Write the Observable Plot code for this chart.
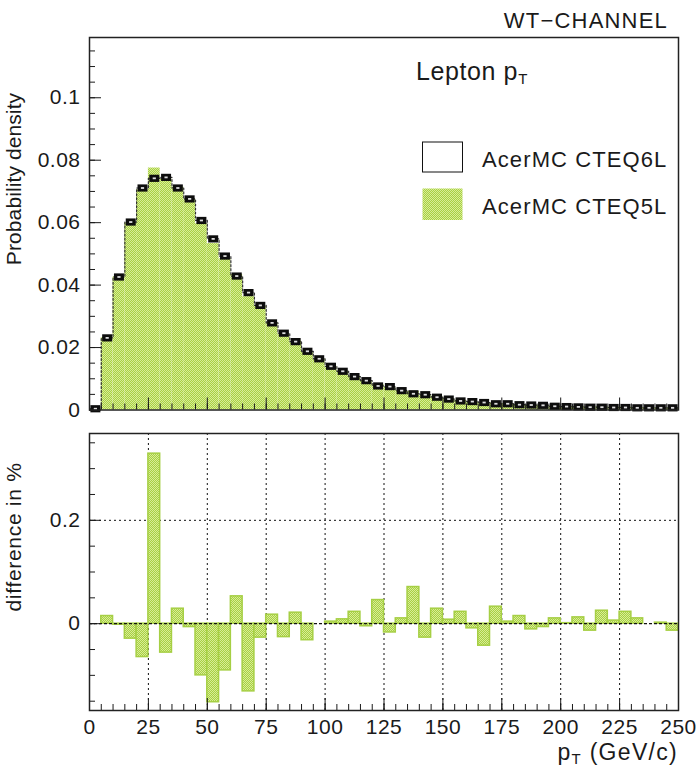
<!DOCTYPE html>
<html>
<head>
<meta charset="utf-8">
<script src="https://cdn.jsdelivr.net/npm/d3@7"></script>
<script src="https://cdn.jsdelivr.net/npm/@observablehq/plot@0.6"></script>
<style>
  html, body { margin: 0; padding: 0; background: #fff; }
  #wrap { position: relative; width: 700px; height: 772px; overflow: hidden; font-family: "Liberation Sans", Arial, sans-serif; }
  #wrap > svg { position: absolute; left: 0; }
  #overlay { position: absolute; left: 0; top: 0; pointer-events: none; }
</style>
</head>
<body>
<svg width="0" height="0" style="position:absolute">
  <defs>
    <pattern id="chk" width="2" height="2" patternUnits="userSpaceOnUse">
      <rect width="2" height="2" fill="#a9d042"/>
      <rect width="1" height="1" fill="#d7ed98"/>
      <rect x="1" y="1" width="1" height="1" fill="#d7ed98"/>
    </pattern>
  </defs>
</svg>
<div id="wrap"></div>
<script>
// ---- data ----
const binLo = [0,5,10,15,20,25,30,35,40,45,50,55,60,65,70,75,80,85,90,95,
  100,105,110,115,120,125,130,135,140,145,150,155,160,165,170,175,180,185,190,195,
  200,205,210,215,220,225,230,235,240,245];
const binWidth = 5;

// AcerMC CTEQ6L (black markers)
const cteq6l = [0.0004,0.0231,0.0426,0.0602,0.0711,0.0742,0.0745,0.0711,0.0676,0.0607,
  0.0548,0.0493,0.0429,0.0376,0.0335,0.0279,0.0246,0.0219,0.0188,0.0164,
  0.0140,0.0124,0.0107,0.0094,0.0077,0.0075,0.0062,0.0052,0.0049,0.0041,
  0.0035,0.0029,0.0027,0.0024,0.0020,0.0020,0.0017,0.0016,0.0015,0.0012,
  0.0011,0.0010,0.0009,0.0009,0.0008,0.0008,0.0007,0.0007,0.0007,0.0007];

// AcerMC CTEQ5L (green filled histogram)
const cteq5l = [0.0004,0.0232,0.0426,0.0599,0.0705,0.0775,0.0739,0.0714,0.0675,0.0597,
  0.0533,0.0484,0.0434,0.0363,0.0332,0.0281,0.0243,0.0221,0.0185,0.0164,
  0.0140,0.0125,0.0109,0.0094,0.0082,0.0073,0.0063,0.0059,0.0046,0.0044,
  0.0036,0.0031,0.0026,0.0020,0.0023,0.0020,0.0018,0.0015,0.0015,0.0013,
  0.0011,0.0011,0.0009,0.0011,0.0009,0.0010,0.0008,0.0007,0.0007,0.0007];

// difference in %
const diffPct = [0,0.0148,-0.002,-0.029,-0.0646,0.329,-0.056,0.029,-0.0066,-0.100,
  -0.152,-0.0904,0.0529,-0.131,-0.027,0.0174,-0.026,0.0213,-0.032,0.0,
  0.004,0.0084,0.023,-0.005,0.0457,-0.017,0.0103,0.0709,-0.027,0.029,
  0.0077,0.023,-0.009,-0.0426,0.0329,0.004,0.0148,-0.011,-0.0065,0.0103,
  0.001,0.0122,-0.0135,0.0251,0.006,0.023,0.0103,0.0,0.002,-0.0135];

const xTicks = [0,25,50,75,100,125,150,175,200,225,250];
const xGrid = [25,50,75,100,125,150,175,200,225];
const xMinor = d3.range(0, 250.001, 5);
const yTopTicks = [0,0.02,0.04,0.06,0.08,0.1];
const yTopMinor = d3.range(0, 0.1191, 0.005);
const yBotTicks = [0,0.2];
const yBotMinor = [-0.15,-0.1,-0.05,0,0.05,0.1,0.15,0.2,0.25,0.3,0.35];

// ---- tables ----
const bins = binLo.map((lo, i) => ({lo, hi: lo + binWidth, mid: lo + binWidth/2,
  v6: cteq6l[i], v5: cteq5l[i], d: diffPct[i]}));
const step6 = bins.map(b => ({x: b.lo, y: b.v6})).concat([{x: 250, y: cteq6l[cteq6l.length-1]}]);

const W = 700, ML = 89, MR = 22;
const PW = W - ML - MR;
const FONT = "Liberation Sans, Arial, sans-serif";
const fmt = d => String(+d.toFixed(3));
const ink = "#1a1a1a";

// rectangular marker symbols (ROOT-like)
const boxOuter = {draw(ctx) { ctx.moveTo(-5, -3.6); ctx.lineTo(5, -3.6); ctx.lineTo(5, 3.6); ctx.lineTo(-5, 3.6); ctx.closePath(); }};
const boxInner = {draw(ctx) { ctx.moveTo(-1.6, -0.9); ctx.lineTo(1.6, -0.9); ctx.lineTo(1.6, 0.9); ctx.lineTo(-1.6, 0.9); ctx.closePath(); }};

// ---- top panel ----
const topH = 420, topMT = 37, topMB = 10.5;
const topPH = topH - topMT - topMB;
const topPlot = Plot.plot({
  width: W, height: topH,
  marginLeft: ML, marginRight: MR, marginTop: topMT, marginBottom: topMB,
  style: {fontFamily: FONT, fontSize: "21px", color: ink, background: "transparent", letterSpacing: "0.5px"},
  x: {domain: [0, 250], axis: null, label: null},
  y: {domain: [0, 0.1193], axis: null, label: null},
  marks: [
    Plot.rect(bins, {x1: "lo", x2: "hi", y1: () => 0, y2: "v5", fill: "url(#chk)"}),
    Plot.line(step6, {x: "x", y: "y", curve: "step-after", stroke: "#333", strokeWidth: 1.2, strokeDasharray: "2,2"}),
    Plot.tickX(xMinor, {x: d => d, insetTop: topPH - 6, stroke: ink, strokeWidth: 1}),
    Plot.tickX(xTicks, {x: d => d, insetTop: topPH - 12, stroke: ink, strokeWidth: 1}),
    Plot.tickY(yTopMinor, {y: d => d, insetRight: PW - 6, stroke: ink, strokeWidth: 1}),
    Plot.tickY(yTopTicks, {y: d => d, insetRight: PW - 12, stroke: ink, strokeWidth: 1}),
    Plot.axisY({ticks: yTopTicks, tickSize: 0, tickPadding: 9, tickFormat: fmt, fontSize: 21, label: null}),
    Plot.dot(bins, {x: "mid", y: "v6", symbol: boxOuter, fill: "#0d0d0d", stroke: "none"}),
    Plot.dot(bins, {x: "mid", y: "v6", symbol: boxInner, fill: "#ddd", stroke: "none"}),
    Plot.frame({stroke: "#222", strokeWidth: 1.5})
  ]
});
topPlot.style.top = "0px";

// ---- bottom panel ----
const botTop = 420, botH = 352, botMT = 13, botMB = 62;
const botPH = botH - botMT - botMB;
const botPlot = Plot.plot({
  width: W, height: botH,
  marginLeft: ML, marginRight: MR, marginTop: botMT, marginBottom: botMB,
  style: {fontFamily: FONT, fontSize: "21px", color: ink, background: "transparent", letterSpacing: "0.5px"},
  x: {domain: [0, 250], axis: null, label: null},
  y: {domain: [-0.168, 0.368], axis: null, label: null},
  marks: [
    Plot.ruleX(xGrid, {x: d => d, stroke: "#111", strokeWidth: 1, strokeDasharray: "2,3"}),
    Plot.ruleY([0.2], {y: d => d, stroke: "#111", strokeWidth: 1, strokeDasharray: "2,3"}),
    Plot.rect(bins.filter(b => b.d !== 0), {x1: "lo", x2: "hi", y1: () => 0, y2: "d",
      fill: "url(#chk)", stroke: "#a6cf44", strokeWidth: 1.5}),
    Plot.ruleY([0], {y: d => d, stroke: "#111", strokeWidth: 1.2, strokeDasharray: "3,2"}),
    Plot.tickX(xMinor, {x: d => d, insetTop: botPH - 6, stroke: ink, strokeWidth: 1}),
    Plot.tickX(xTicks, {x: d => d, insetTop: botPH - 12, stroke: ink, strokeWidth: 1}),
    Plot.tickY(yBotMinor, {y: d => d, insetRight: PW - 6, stroke: ink, strokeWidth: 1}),
    Plot.tickY(yBotTicks, {y: d => d, insetRight: PW - 12, stroke: ink, strokeWidth: 1}),
    Plot.axisY({ticks: yBotTicks, tickSize: 0, tickPadding: 9, tickFormat: fmt, fontSize: 21, label: null}),
    Plot.axisX({ticks: xTicks, tickSize: 0, tickPadding: 9, tickFormat: d => String(d), fontSize: 21, label: null}),
    Plot.frame({stroke: "#222", strokeWidth: 1.5})
  ]
});
botPlot.style.top = botTop + "px";

const wrap = document.getElementById("wrap");
wrap.appendChild(topPlot);
wrap.appendChild(botPlot);

// ---- titles, legend, axis titles (real text) ----
const ns = "http://www.w3.org/2000/svg";
const ov = document.createElementNS(ns, "svg");
ov.setAttribute("id", "overlay");
ov.setAttribute("width", W);
ov.setAttribute("height", 772);
ov.setAttribute("font-family", FONT);
ov.setAttribute("fill", ink);
ov.innerHTML = `
  <text x="668" y="28" text-anchor="end" font-size="22" letter-spacing="1.2">WT\u2212CHANNEL</text>
  <text x="416" y="80" font-size="25" letter-spacing="0.6">Lepton p<tspan font-size="15" dy="4">T</tspan></text>
  <rect x="422.5" y="142" width="40" height="30" fill="#fff" stroke="#111" stroke-width="1"/>
  <text x="482" y="167" font-size="22" letter-spacing="1.1">AcerMC CTEQ6L</text>
  <rect x="422.5" y="188.5" width="40" height="31.5" fill="url(#chk)"/>
  <text x="482" y="213.5" font-size="22" letter-spacing="1.1">AcerMC CTEQ5L</text>
  <text transform="translate(21,179) rotate(-90)" text-anchor="middle" font-size="21" letter-spacing="0.1">Probability density</text>
  <text transform="translate(21,537) rotate(-90)" text-anchor="middle" font-size="21" letter-spacing="0.7">difference in %</text>
  <text x="678" y="760" text-anchor="end" font-size="23" letter-spacing="1.3">p<tspan font-size="15" dy="4">T</tspan><tspan dy="-4"> (GeV/c)</tspan></text>
`;
wrap.appendChild(ov);
</script>
</body>
</html>
